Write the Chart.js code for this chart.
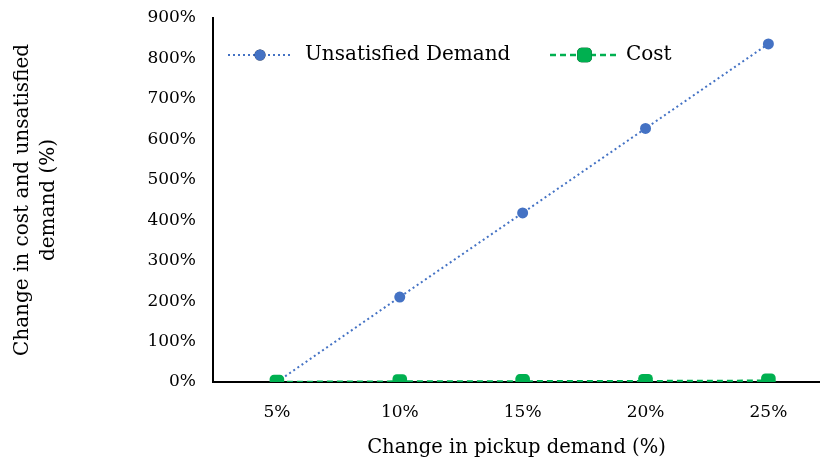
<!DOCTYPE html>
<html>
<head>
<meta charset="utf-8">
<script src="https://cdn.jsdelivr.net/npm/chart.js@4"></script>
<style>
  html, body { margin: 0; padding: 0; background: #fff; }
  #wrap { width: 820px; height: 464px; }
</style>
</head>
<body>
<div id="wrap"><canvas id="chart" width="820" height="464"></canvas></div>
<script>
const demandSteps = [5, 10, 15, 20, 25];
const unsatisfiedDemand = [0, 210, 418, 627, 836];
const costChange = [0, 1, 1.5, 2, 3];
const yTicks = [0, 100, 200, 300, 400, 500, 600, 700, 800, 900];

const FONT = "'DejaVu Serif', serif";
const BLUE = "#4472C4";
const GREEN = "#00B050";

// legend drawn inside the plot, with line + marker samples
const insideLegend = {
  id: "insideLegend",
  afterDraw(chart) {
    const ctx = chart.ctx;
    const y = 55;
    const items = [
      { ds: chart.data.datasets[0], x0: 228, x1: 292, text: 305 },
      { ds: chart.data.datasets[1], x0: 550, x1: 619, text: 626 },
    ];
    ctx.save();
    items.forEach(it => {
      ctx.strokeStyle = it.ds.borderColor;
      ctx.lineWidth = it.ds.borderWidth;
      ctx.setLineDash(it.ds.borderDash);
      ctx.beginPath();
      ctx.moveTo(it.x0, y);
      ctx.lineTo(it.x1, y);
      ctx.stroke();
      ctx.setLineDash([]);
      Chart.helpers.drawPoint(ctx, {
        pointStyle: it.ds.pointStyle,
        radius: it.ds.pointRadius,
        borderWidth: 0,
        rotation: 0
      }, (it.x0 + it.x1) / 2, y);
      ctx.fillStyle = it.ds.pointBackgroundColor;
      ctx.fill();
      ctx.fillStyle = "#000";
      ctx.font = "20px " + FONT;
      ctx.textBaseline = "middle";
      ctx.fillText(it.ds.label, it.text, y);
    });
    ctx.restore();
  }
};

new Chart(document.getElementById("chart"), {
  type: "line",
  data: {
    datasets: [
      {
        label: "Unsatisfied Demand",
        data: demandSteps.map((x, i) => ({ x, y: unsatisfiedDemand[i] })),
        borderColor: BLUE,
        backgroundColor: BLUE,
        pointBackgroundColor: BLUE,
        borderWidth: 2,
        borderDash: [2, 3],
        pointStyle: "circle",
        pointRadius: 5.5,
        pointBorderWidth: 0,
        order: 2
      },
      {
        label: "Cost",
        data: demandSteps.map((x, i) => ({ x, y: costChange[i] })),
        borderColor: GREEN,
        backgroundColor: GREEN,
        pointBackgroundColor: GREEN,
        borderWidth: 2.5,
        borderDash: [6, 4],
        pointStyle: "rectRounded",
        pointRadius: 8.5,
        pointBorderWidth: 0,
        order: 1
      }
    ]
  },
  options: {
    responsive: false,
    animation: false,
    layout: { autoPadding: false, padding: { top: 18, right: 0, left: 0, bottom: 0 } },
    plugins: {
      legend: { display: false },
      tooltip: { enabled: false }
    },
    scales: {
      x: {
        type: "linear",
        min: 2.4,
        max: 27.1,
        afterBuildTicks: axis => { axis.ticks = demandSteps.map(v => ({ value: v })); },
        afterFit: axis => {
          axis.height = 82;
          axis.paddingLeft = 0;
          axis.paddingRight = 0;
        },
        grid: { display: false, drawTicks: false },
        border: { color: "#000", width: 2 },
        ticks: {
          color: "#000",
          font: { family: FONT, size: 17 },
          padding: 20,
          callback: v => v + "%"
        },
        title: {
          display: true,
          text: "Change in pickup demand (%)",
          color: "#000",
          font: { family: FONT, size: 19.5 },
          padding: { top: 6 }
        }
      },
      y: {
        min: 0,
        max: 900,
        afterBuildTicks: axis => { axis.ticks = yTicks.map(v => ({ value: v })); },
        afterFit: axis => {
          axis.width = 213;
          axis.paddingTop = 0;
          axis.paddingBottom = 0;
        },
        grid: { display: false, drawTicks: false },
        border: { color: "#000", width: 2 },
        ticks: {
          color: "#000",
          font: { family: FONT, size: 17 },
          padding: 17,
          callback: v => v + "%"
        },
        title: {
          display: true,
          text: ["Change in cost and unsatisfied", "demand (%)"],
          color: "#000",
          font: { family: FONT, size: 20, lineHeight: 1.3 },
          padding: { top: 10, bottom: 0 }
        }
      }
    }
  },
  plugins: [insideLegend]
});
</script>
</body>
</html>
